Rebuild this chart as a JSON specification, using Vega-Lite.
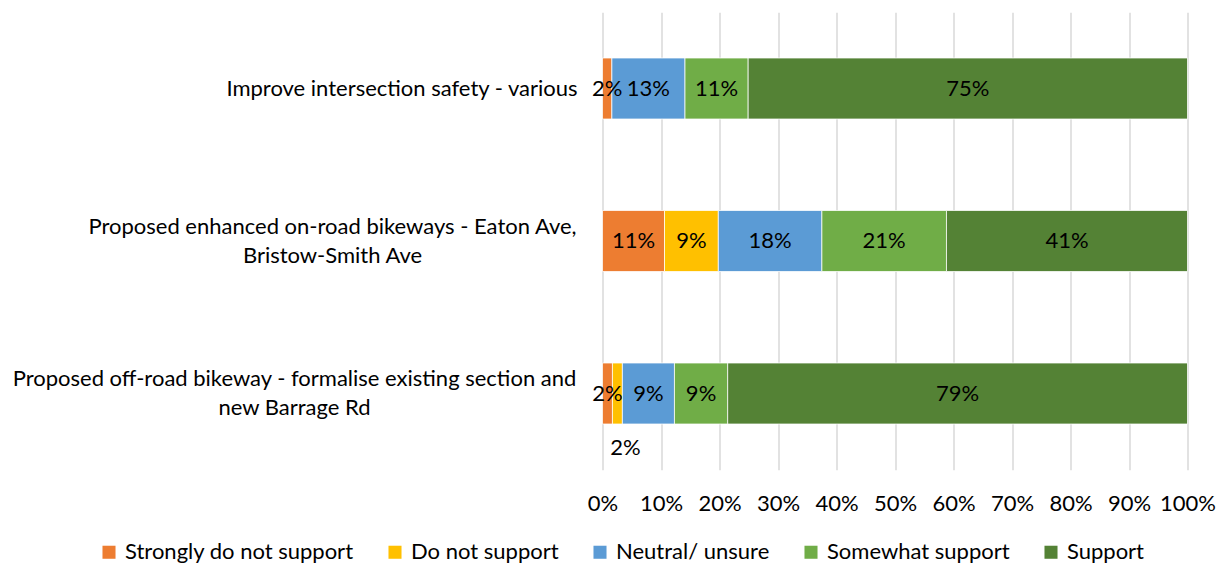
{
  "$schema": "https://vega.github.io/schema/vega-lite/v6.json",
  "width": 585,
  "height": 457.5,
  "autosize": {"type": "none"},
  "padding": {"left": 602.5, "top": 12.25, "right": 37.5, "bottom": 95.25},
  "background": "white",
  "config": {
    "view": {"stroke": null},
    "font": "Lato",
    "text": {"font": "Lato"}
  },
  "data": {
    "values": [
      {"category": "Improve intersection safety - various", "response": "Strongly do not support", "rank": 1, "share": 0.016},
      {"category": "Improve intersection safety - various", "response": "Do not support", "rank": 2, "share": 0.0},
      {"category": "Improve intersection safety - various", "response": "Neutral/ unsure", "rank": 3, "share": 0.125},
      {"category": "Improve intersection safety - various", "response": "Somewhat support", "rank": 4, "share": 0.108},
      {"category": "Improve intersection safety - various", "response": "Support", "rank": 5, "share": 0.751},
      {"category": "Proposed enhanced on-road bikeways - Eaton Ave, Bristow-Smith Ave", "response": "Strongly do not support", "rank": 1, "share": 0.106},
      {"category": "Proposed enhanced on-road bikeways - Eaton Ave, Bristow-Smith Ave", "response": "Do not support", "rank": 2, "share": 0.092},
      {"category": "Proposed enhanced on-road bikeways - Eaton Ave, Bristow-Smith Ave", "response": "Neutral/ unsure", "rank": 3, "share": 0.177},
      {"category": "Proposed enhanced on-road bikeways - Eaton Ave, Bristow-Smith Ave", "response": "Somewhat support", "rank": 4, "share": 0.213},
      {"category": "Proposed enhanced on-road bikeways - Eaton Ave, Bristow-Smith Ave", "response": "Support", "rank": 5, "share": 0.412},
      {"category": "Proposed off-road bikeway - formalise existing section and new Barrage Rd", "response": "Strongly do not support", "rank": 1, "share": 0.017},
      {"category": "Proposed off-road bikeway - formalise existing section and new Barrage Rd", "response": "Do not support", "rank": 2, "share": 0.017},
      {"category": "Proposed off-road bikeway - formalise existing section and new Barrage Rd", "response": "Neutral/ unsure", "rank": 3, "share": 0.089},
      {"category": "Proposed off-road bikeway - formalise existing section and new Barrage Rd", "response": "Somewhat support", "rank": 4, "share": 0.091},
      {"category": "Proposed off-road bikeway - formalise existing section and new Barrage Rd", "response": "Support", "rank": 5, "share": 0.786}
    ]
  },
  "transform": [
    {"filter": "datum.share > 0"},
    {"stack": "share", "groupby": ["category"], "sort": [{"field": "rank", "order": "ascending"}], "as": ["v0", "v1"]}
  ],
  "encoding": {
    "y": {
      "field": "category",
      "type": "nominal",
      "sort": null,
      "title": null,
      "scale": {"paddingInner": 0.6, "paddingOuter": 0.3},
      "axis": {
        "domain": false,
        "ticks": false,
        "grid": false,
        "labelFont": "Lato",
        "labelFontSize": 22,
        "labelColor": "#000000",
        "labelAlign": "center",
        "labelBaseline": "middle",
        "labelLineHeight": 29,
        "labelLimit": 800,
        "labelPadding": {
          "condition": [
            {"test": "datum.value == 'Improve intersection safety - various'", "value": 201},
            {"test": "datum.value == 'Proposed enhanced on-road bikeways - Eaton Ave, Bristow-Smith Ave'", "value": 270.5}
          ],
          "value": 308.5
        },
        "labelOffset": {
          "condition": {"test": "datum.value == 'Improve intersection safety - various'", "value": 0},
          "value": -14.5
        },
        "labelExpr": "datum.value == 'Proposed enhanced on-road bikeways - Eaton Ave, Bristow-Smith Ave' ? ['Proposed enhanced on-road bikeways - Eaton Ave,', 'Bristow-Smith Ave'] : datum.value == 'Proposed off-road bikeway - formalise existing section and new Barrage Rd' ? ['Proposed off-road bikeway - formalise existing section and', 'new Barrage Rd'] : datum.value"
      }
    }
  },
  "layer": [
    {
      "mark": {"type": "bar", "stroke": "white", "strokeWidth": 0.75},
      "encoding": {
        "x": {
          "field": "v0",
          "type": "quantitative",
          "title": null,
          "scale": {"domain": [0, 1], "nice": false},
          "axis": {
            "format": ".0%",
            "values": [0, 0.1, 0.2, 0.3, 0.4, 0.5, 0.6, 0.7, 0.8, 0.9, 1],
            "labelOverlap": false,
            "domain": false,
            "ticks": false,
            "grid": true,
            "gridColor": "#d9d9d9",
            "gridWidth": 1.5,
            "labelFont": "Lato",
            "labelFontSize": 22,
            "labelColor": "#000000",
            "labelPadding": 24,
            "labelFlush": false
          }
        },
        "x2": {"field": "v1"},
        "color": {
          "field": "response",
          "type": "nominal",
          "scale": {
            "domain": ["Strongly do not support", "Do not support", "Neutral/ unsure", "Somewhat support", "Support"],
            "range": ["#ED7D31", "#FFC000", "#5B9BD5", "#70AD47", "#548235"]
          },
          "legend": {
            "title": null,
            "orient": "none",
            "direction": "horizontal",
            "legendX": -504.5,
            "legendY": 529,
            "symbolType": "square",
            "symbolSize": 170,
            "symbolStrokeWidth": 0,
            "labelFont": "Lato",
            "labelFontSize": 22,
            "labelColor": "#000000",
            "labelOffset": 5,
            "columnPadding": 30,
            "labelLimit": 400,
            "padding": 0
          }
        }
      }
    },
    {
      "transform": [
        {"filter": "!(datum.rank == 2 && datum.category == 'Proposed off-road bikeway - formalise existing section and new Barrage Rd')"},
        {"fold": ["v0", "v1"], "as": ["edge", "pos"]}
      ],
      "mark": {"type": "text", "fontSize": 22, "font": "Lato", "color": "#000000", "baseline": "middle", "align": "center"},
      "encoding": {
        "x": {"aggregate": "mean", "field": "pos", "type": "quantitative"},
        "detail": {"field": "response"},
        "text": {"aggregate": "max", "field": "share", "type": "quantitative", "format": ".0%"}
      }
    },
    {
      "transform": [
        {"filter": "datum.rank == 2 && datum.category == 'Proposed off-road bikeway - formalise existing section and new Barrage Rd'"},
        {"fold": ["v0", "v1"], "as": ["edge", "pos"]}
      ],
      "mark": {"type": "text", "fontSize": 22, "font": "Lato", "color": "#000000", "baseline": "middle", "align": "center", "dx": 8, "dy": 54},
      "encoding": {
        "x": {"aggregate": "mean", "field": "pos", "type": "quantitative"},
        "detail": {"field": "response"},
        "text": {"aggregate": "max", "field": "share", "type": "quantitative", "format": ".0%"}
      }
    }
  ]
}
